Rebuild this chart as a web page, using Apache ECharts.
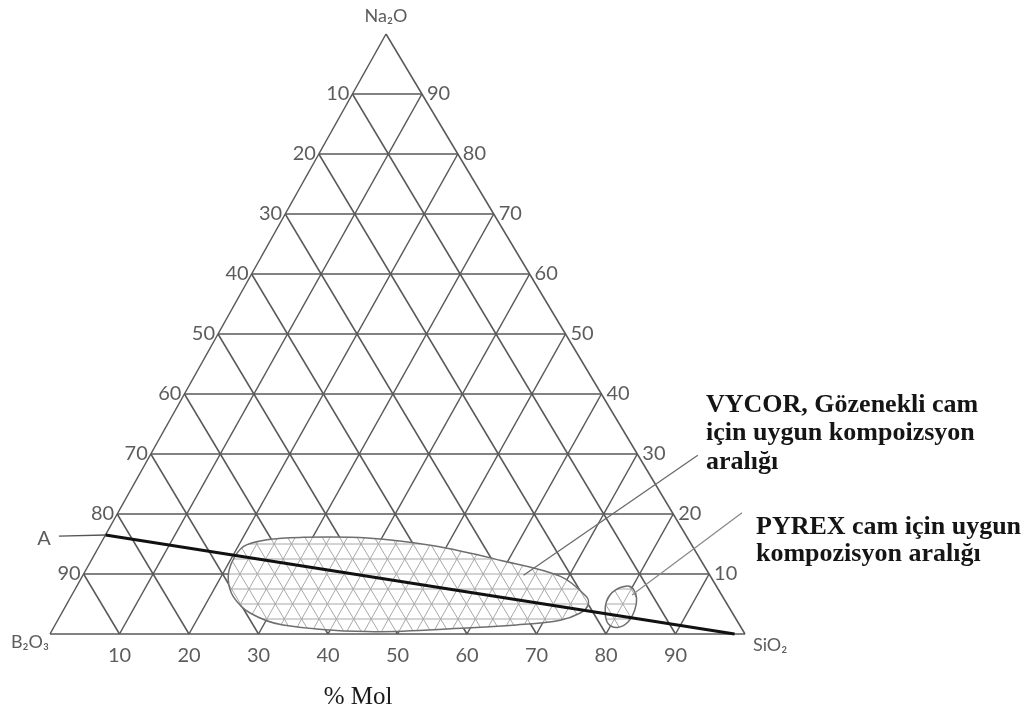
<!DOCTYPE html>
<html>
<head>
<meta charset="utf-8">
<script src="https://cdn.jsdelivr.net/npm/echarts@6/dist/echarts.min.js"></script>
<style>html,body{margin:0;padding:0;background:#fff}#c{width:1033px;height:707px}</style>
</head>
<body>
<div id="c"></div>
<script>
// ---------------- data ----------------
// Vertex names: top, left, right
const vertexNames = ['Na₂O', 'B₂O₃', 'SiO₂'];
// Grid percentages
const gridTicks = [10, 20, 30, 40, 50, 60, 70, 80, 90];
const leftTickLabels = ['10', '20', '30', '40', '50', '60', '70', '80', '90'];   // B2O3 side, top -> bottom
const rightTickLabels = ['90', '80', '70', '60', '50', '40', '30', '20', '10'];  // Na2O side, top -> bottom
const bottomTickLabels = ['10', '20', '30', '40', '50', '60', '70', '80', '90']; // SiO2 side, left -> right
const hatchStep = 2.5;
const axisTitle = '% Mol';
// Compositions as [SiO2 %, Na2O %]  (B2O3 = 100 - SiO2 - Na2O)
const lineA = [[0, 16.5], [98.5, 0]];
const leaderA = [[-6.6, 16.3], [0, 16.5]];
const vycorRegion = [
  [20.4, 11.8], [20.8, 14.6], [23.6, 15.7], [28.2, 16.1], [37.9, 16.0], [48.1, 14.7],
  [58.8, 12.3], [68.8, 9.6], [74.2, 6.2], [75.1, 4.8], [74.6, 3.5], [72.3, 2.3],
  [66.4, 1.5], [59.5, 1.0], [45.4, 0.4], [32.8, 1.5], [27.1, 3.5], [23.4, 6.2], [21.3, 9.0]
];
const pyrexRegion = [
  [79.2, 8.0], [80.3, 7.5], [81.5, 6.0], [82.2, 4.0], [82.2, 2.0], [81.1, 1.1],
  [79.5, 1.7], [78.2, 3.5], [77.4, 5.7], [77.8, 7.3]
];
const vycorLeader = [[63.4, 9.8], [78.8, 29.8]];
const pyrexLeader = [[80.6, 6.5], [89.8, 20.2]];
const vycorText = ['VYCOR, Gözenekli cam', 'için uygun kompoizsyon', 'aralığı'];
const pyrexText = ['PYREX cam için uygun', 'kompozisyon aralığı'];

// ---------------- layout helpers ----------------
const APEX_X = 48.35; // horizontal data position of the top vertex
function toXY(p) { return [p[0] + p[1] * APEX_X / 100, p[1]]; }

function familySegs(values) {
  const s = [];
  values.forEach(t => {
    s.push([...toXY([0, t]), ...toXY([100 - t, t])]);          // constant Na2O
    s.push([...toXY([t, 0]), ...toXY([t, 100 - t])]);          // constant SiO2
    s.push([...toXY([100 - t, 0]), ...toXY([0, 100 - t])]);    // constant B2O3
  });
  return s;
}
const gridSegs = familySegs(gridTicks).concat([
  [...toXY([0, 0]), ...toXY([100, 0])],
  [...toXY([100, 0]), ...toXY([0, 100])],
  [...toXY([0, 100]), ...toXY([0, 0])]
]);
const hatchVals = [];
for (let t = hatchStep; t < 100; t += hatchStep) hatchVals.push(t);
const hatchSegs = familySegs(hatchVals);
const regions = [vycorRegion, pyrexRegion];

const tickFont = { fontFamily: 'Lato, "DejaVu Sans", sans-serif', fontSize: 20, color: '#333' };

const option = {
  animation: false,
  backgroundColor: '#fff',
  grid: { left: 50, right: 288, top: 34, bottom: 73, containLabel: false },
  xAxis: { type: 'value', min: 0, max: 100, show: false },
  yAxis: { type: 'value', min: 0, max: 100, show: false },
  graphic: [
    ...vycorText.map((t, i) => ({
      type: 'text', x: 706, y: 405 + i * 28.5, z: 50,
      style: { text: t, font: 'bold 26px "Liberation Serif", "DejaVu Serif", serif', fill: '#151515', textVerticalAlign: 'middle' }
    })),
    ...pyrexText.map((t, i) => ({
      type: 'text', x: 756, y: 527 + i * 27, z: 50,
      style: { text: t, font: 'bold 26px "Liberation Serif", "DejaVu Serif", serif', fill: '#151515', textVerticalAlign: 'middle' }
    })),
    {
      type: 'text', x: 358, y: 697, z: 50,
      style: { text: axisTitle, font: '25px "Liberation Serif", "DejaVu Serif", serif', fill: '#1a1a1a', textAlign: 'center', textVerticalAlign: 'middle' }
    }
  ],
  series: [
    {
      type: 'custom', name: 'grid', z: 2, clip: false,
      encode: { x: [0, 2], y: [1, 3] },
      data: gridSegs,
      renderItem: (params, api) => {
        const a = api.coord([api.value(0), api.value(1)]);
        const b = api.coord([api.value(2), api.value(3)]);
        return { type: 'line', shape: { x1: a[0], y1: a[1], x2: b[0], y2: b[1] },
          style: { stroke: '#585858', lineWidth: 1.5 } };
      }
    },
    {
      type: 'custom', name: 'regions', z: 3, clip: false,
      encode: { x: 0, y: 1 },
      data: regions.map((r, i) => [toXY(r[0])[0], toXY(r[0])[1], i]),
      renderItem: (params, api) => {
        const reg = regions[params.dataIndex];
        const pts = reg.map(p => api.coord(toXY(p)));
        const hatch = hatchSegs.map(s => {
          const a = api.coord([s[0], s[1]]);
          const b = api.coord([s[2], s[3]]);
          return { type: 'line', shape: { x1: a[0], y1: a[1], x2: b[0], y2: b[1] },
            style: { stroke: '#a8a8a8', lineWidth: 1 } };
        });
        return {
          type: 'group',
          children: [
            { type: 'polygon', shape: { points: pts, smooth: 0.35 }, style: { fill: '#fff', stroke: null } },
            { type: 'group', children: hatch, clipPath: { type: 'polygon', shape: { points: pts, smooth: 0.35 } } },
            { type: 'polygon', shape: { points: pts, smooth: 0.35 }, style: { fill: null, stroke: '#6e6e6e', lineWidth: 1.5 } }
          ]
        };
      }
    },
    {
      type: 'line', name: 'A', z: 5, clip: false, symbol: 'none', silent: true,
      data: lineA.map(toXY),
      lineStyle: { color: '#111', width: 3 }
    },
    {
      type: 'line', name: 'leaderA', z: 5, clip: false, symbol: 'none', silent: true,
      data: leaderA.map(toXY),
      lineStyle: { color: '#555', width: 1.3 }
    },
    {
      type: 'line', name: 'vycorLeader', z: 5, clip: false, symbol: 'none', silent: true,
      data: vycorLeader.map(toXY),
      lineStyle: { color: '#6a6a6a', width: 1.3 }
    },
    {
      type: 'line', name: 'pyrexLeader', z: 5, clip: false, symbol: 'none', silent: true,
      data: pyrexLeader.map(toXY),
      lineStyle: { color: '#8a8a8a', width: 1.3 }
    },
    {
      type: 'scatter', name: 'Alabel', z: 6, clip: false, symbolSize: 0, silent: true,
      data: [{ value: toXY(leaderA[0]), name: 'A' }],
      label: { show: true, position: 'left', distance: 8, formatter: '{b}', ...tickFont, offset: [0, 2] }
    },
    {
      type: 'scatter', name: 'leftTicks', z: 6, clip: false, symbolSize: 0, silent: true,
      data: gridTicks.map((t, i) => ({ value: toXY([0, 100 - t]), name: leftTickLabels[i] })),
      label: { show: true, position: 'left', distance: 3, formatter: '{b}', ...tickFont }
    },
    {
      type: 'scatter', name: 'rightTicks', z: 6, clip: false, symbolSize: 0, silent: true,
      data: gridTicks.map((t, i) => ({ value: toXY([t, 100 - t]), name: rightTickLabels[i] })),
      label: { show: true, position: 'right', distance: 5, formatter: '{b}', ...tickFont }
    },
    {
      type: 'scatter', name: 'bottomTicks', z: 6, clip: false, symbolSize: 0, silent: true,
      data: gridTicks.map((t, i) => ({ value: toXY([t, 0]), name: bottomTickLabels[i] })),
      label: { show: true, position: 'bottom', distance: 12, formatter: '{b}', ...tickFont }
    },
    {
      type: 'scatter', name: 'vertices', z: 6, clip: false, symbolSize: 0, silent: true,
      data: [
        { value: toXY([0, 100]), name: vertexNames[0], label: { position: 'top', distance: 9 } },
        { value: toXY([0, 0]), name: vertexNames[1], label: { position: 'left', distance: 1, offset: [0, 8] } },
        { value: toXY([100, 0]), name: vertexNames[2], label: { position: 'right', distance: 8, offset: [0, 11] } }
      ],
      label: { show: true, formatter: '{b}', fontFamily: 'Lato, "DejaVu Sans", sans-serif', fontSize: 18, color: '#333' }
    }
  ]
};
const chart = echarts.init(document.getElementById('c'), null, { renderer: 'canvas' });
chart.setOption(option);
</script>
</body>
</html>
